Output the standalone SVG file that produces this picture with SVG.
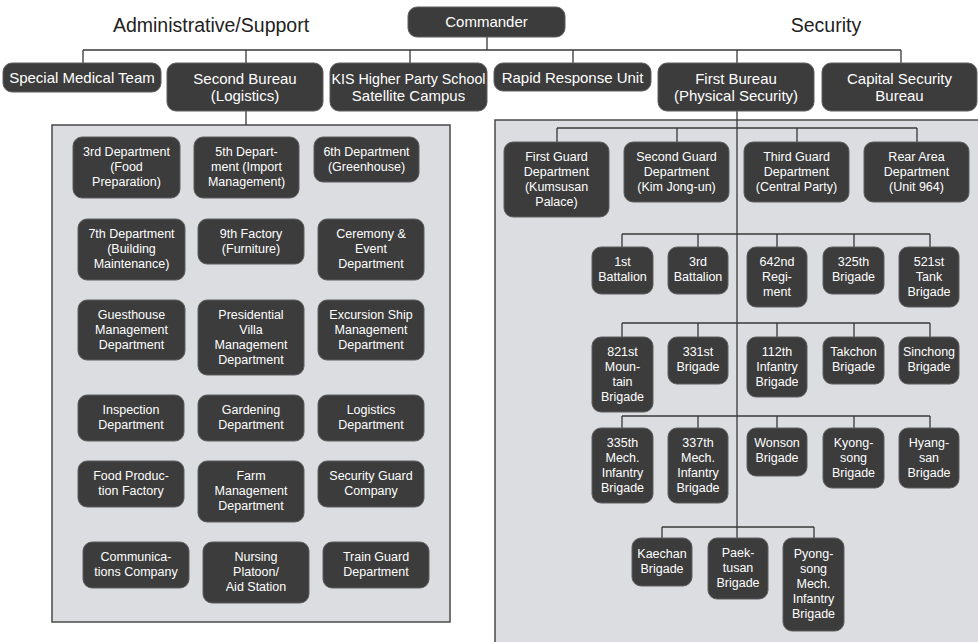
<svg xmlns="http://www.w3.org/2000/svg" width="978" height="642" viewBox="0 0 978 642">
<style>
.bg{fill:#ffffff}
.panel{fill:#dcdde0;stroke:#4a4a4a;stroke-width:1.5}
.box{fill:#3c3c3c;stroke:#5e5e5e;stroke-width:1}
.t{font-family:"Liberation Sans",Arial,sans-serif;font-size:12.5px;fill:#ffffff;text-anchor:middle}
.tt{font-family:"Liberation Sans",Arial,sans-serif;font-size:15px;fill:#ffffff;text-anchor:middle}
.title{font-family:"Liberation Sans",Arial,sans-serif;font-size:19.5px;fill:#222222;text-anchor:middle}
.ln{fill:none;stroke:#383838;stroke-width:1.3}
</style>
<rect class="bg" x="0" y="0" width="978" height="642"/>
<text class="title" x="211" y="32">Administrative/Support</text>
<text class="title" x="826" y="32">Security</text>
<rect class="panel" x="52" y="125" width="398" height="497"/>
<rect class="panel" x="495" y="120" width="490" height="530"/>
<g id="connectors">
<path class="ln" d="M487 37V50M83 50H901M83 50V63M246 50V63M410 50V63M573 50V63M737 50V63M901 50V63"/>
<path class="ln" d="M246 111V125"/>
<path class="ln" d="M737 111V527"/>
<path class="ln" d="M557 128H917M557 128V142M677 128V142M797 128V142M917 128V142"/>
<path class="ln" d="M622 234H930M622 234V247M698 234V247M777 234V247M854 234V247M930 234V247"/>
<path class="ln" d="M622 323H930M622 323V337M698 323V337M777 323V337M854 323V337M930 323V337"/>
<path class="ln" d="M622 416H930M622 416V428M698 416V428M777 416V428M854 416V428M930 416V428"/>
<path class="ln" d="M662 527H814M662 527V538M737 527V538M814 527V538"/>
</g>
<g id="commander"><rect class="box" x="408" y="7" width="157" height="30" rx="9"/><text class="tt" x="486.5" y="27">Commander</text></g>
<g id="special-medical"><rect class="box" x="3" y="63" width="158" height="29" rx="9"/><text class="tt" x="82" y="83">Special Medical Team</text></g>
<g id="second-bureau"><rect class="box" x="167" y="63" width="156" height="48" rx="9"/><text class="tt" x="245" y="83.5">Second Bureau</text><text class="tt" x="245" y="100.5">(Logistics)</text></g>
<g id="kis"><rect class="box" x="330" y="63" width="157" height="48" rx="9"/><text class="tt" x="408.5" y="83.5" textLength="154" lengthAdjust="spacingAndGlyphs">KIS Higher Party School</text><text class="tt" x="408.5" y="100.5">Satellite Campus</text></g>
<g id="rapid-response"><rect class="box" x="494" y="63" width="157" height="28" rx="9"/><text class="tt" x="572.5" y="82.5">Rapid Response Unit</text></g>
<g id="first-bureau"><rect class="box" x="658" y="63" width="156" height="48" rx="9"/><text class="tt" x="736" y="83.5">First Bureau</text><text class="tt" x="736" y="100.5">(Physical Security)</text></g>
<g id="capital-security"><rect class="box" x="822" y="63" width="155" height="48" rx="9"/><text class="tt" x="899.5" y="83.5">Capital Security</text><text class="tt" x="899.5" y="100.5">Bureau</text></g>

<g id="dept3"><rect class="box" x="73" y="137" width="107" height="61" rx="9"/><text class="t" x="126.5" y="156">3rd Department</text><text class="t" x="126.5" y="171">(Food</text><text class="t" x="126.5" y="186">Preparation)</text></g>
<g id="dept5"><rect class="box" x="194" y="137" width="105" height="61" rx="9"/><text class="t" x="246.5" y="156">5th Depart-</text><text class="t" x="246.5" y="171">ment (Import</text><text class="t" x="246.5" y="186">Management)</text></g>
<g id="dept6"><rect class="box" x="314" y="137" width="105" height="45" rx="9"/><text class="t" x="366.5" y="155.5">6th Department</text><text class="t" x="366.5" y="170.5">(Greenhouse)</text></g>
<g id="dept7"><rect class="box" x="78" y="219" width="107" height="61" rx="9"/><text class="t" x="131.5" y="238">7th Department</text><text class="t" x="131.5" y="253">(Building</text><text class="t" x="131.5" y="268">Maintenance)</text></g>
<g id="factory9"><rect class="box" x="198" y="219" width="106" height="45" rx="9"/><text class="t" x="251" y="237.5">9th Factory</text><text class="t" x="251" y="252.5">(Furniture)</text></g>
<g id="ceremony"><rect class="box" x="318" y="219" width="106" height="61" rx="9"/><text class="t" x="371" y="238">Ceremony &amp;</text><text class="t" x="371" y="253">Event</text><text class="t" x="371" y="268">Department</text></g>
<g id="guesthouse"><rect class="box" x="78" y="300" width="107" height="60" rx="9"/><text class="t" x="131.5" y="318.5">Guesthouse</text><text class="t" x="131.5" y="333.5">Management</text><text class="t" x="131.5" y="348.5">Department</text></g>
<g id="villa"><rect class="box" x="198" y="300" width="106" height="75" rx="9"/><text class="t" x="251" y="318.5">Presidential</text><text class="t" x="251" y="333.5">Villa</text><text class="t" x="251" y="348.5">Management</text><text class="t" x="251" y="363.5">Department</text></g>
<g id="excursion"><rect class="box" x="318" y="300" width="106" height="60" rx="9"/><text class="t" x="371" y="318.5">Excursion Ship</text><text class="t" x="371" y="333.5">Management</text><text class="t" x="371" y="348.5">Department</text></g>
<g id="inspection"><rect class="box" x="78" y="395" width="106" height="46" rx="9"/><text class="t" x="131" y="413.5">Inspection</text><text class="t" x="131" y="428.5">Department</text></g>
<g id="gardening"><rect class="box" x="198" y="395" width="106" height="46" rx="9"/><text class="t" x="251" y="413.5">Gardening</text><text class="t" x="251" y="428.5">Department</text></g>
<g id="logistics"><rect class="box" x="318" y="395" width="106" height="46" rx="9"/><text class="t" x="371" y="413.5">Logistics</text><text class="t" x="371" y="428.5">Department</text></g>
<g id="food"><rect class="box" x="78" y="461" width="106" height="46" rx="9"/><text class="t" x="131" y="479.5">Food Produc-</text><text class="t" x="131" y="494.5">tion Factory</text></g>
<g id="farm"><rect class="box" x="198" y="461" width="106" height="61" rx="9"/><text class="t" x="251" y="480">Farm</text><text class="t" x="251" y="495">Management</text><text class="t" x="251" y="510">Department</text></g>
<g id="security-guard"><rect class="box" x="318" y="461" width="106" height="46" rx="9"/><text class="t" x="371" y="479.5">Security Guard</text><text class="t" x="371" y="494.5">Company</text></g>
<g id="communications"><rect class="box" x="83" y="542" width="106" height="46" rx="9"/><text class="t" x="136" y="560.5">Communica-</text><text class="t" x="136" y="575.5">tions Company</text></g>
<g id="nursing"><rect class="box" x="203" y="542" width="106" height="61" rx="9"/><text class="t" x="256" y="561">Nursing</text><text class="t" x="256" y="576">Platoon/</text><text class="t" x="256" y="591">Aid Station</text></g>
<g id="train-guard"><rect class="box" x="323" y="542" width="106" height="46" rx="9"/><text class="t" x="376" y="560.5">Train Guard</text><text class="t" x="376" y="575.5">Department</text></g>

<g id="first-guard"><rect class="box" x="504" y="142" width="105" height="75" rx="9"/><text class="t" x="556.5" y="160.5">First Guard</text><text class="t" x="556.5" y="175.5">Department</text><text class="t" x="556.5" y="190.5">(Kumsusan</text><text class="t" x="556.5" y="205.5">Palace)</text></g>
<g id="second-guard"><rect class="box" x="624" y="142" width="105" height="60" rx="9"/><text class="t" x="676.5" y="160.5">Second Guard</text><text class="t" x="676.5" y="175.5">Department</text><text class="t" x="676.5" y="190.5">(Kim Jong-un)</text></g>
<g id="third-guard"><rect class="box" x="744" y="142" width="105" height="60" rx="9"/><text class="t" x="796.5" y="160.5">Third Guard</text><text class="t" x="796.5" y="175.5">Department</text><text class="t" x="796.5" y="190.5">(Central Party)</text></g>
<g id="rear-area"><rect class="box" x="864" y="142" width="105" height="60" rx="9"/><text class="t" x="916.5" y="160.5">Rear Area</text><text class="t" x="916.5" y="175.5">Department</text><text class="t" x="916.5" y="190.5">(Unit 964)</text></g>

<g id="bn1"><rect class="box" x="592" y="247" width="61" height="47" rx="9"/><text class="t" x="622.5" y="265.5">1st</text><text class="t" x="622.5" y="280.5">Battalion</text></g>
<g id="bn3"><rect class="box" x="668" y="247" width="60" height="47" rx="9"/><text class="t" x="698" y="265.5">3rd</text><text class="t" x="698" y="280.5">Battalion</text></g>
<g id="reg642"><rect class="box" x="747" y="247" width="60" height="60" rx="9"/><text class="t" x="777" y="265.5">642nd</text><text class="t" x="777" y="280.5">Regi-</text><text class="t" x="777" y="295.5">ment</text></g>
<g id="bde325"><rect class="box" x="823" y="247" width="61" height="47" rx="9"/><text class="t" x="853.5" y="265.5">325th</text><text class="t" x="853.5" y="280.5">Brigade</text></g>
<g id="bde521"><rect class="box" x="899" y="247" width="60" height="60" rx="9"/><text class="t" x="929" y="265.5">521st</text><text class="t" x="929" y="280.5">Tank</text><text class="t" x="929" y="295.5">Brigade</text></g>

<g id="bde821"><rect class="box" x="592" y="337" width="61" height="75" rx="9"/><text class="t" x="622.5" y="355.5">821st</text><text class="t" x="622.5" y="370.5">Moun-</text><text class="t" x="622.5" y="385.5">tain</text><text class="t" x="622.5" y="400.5">Brigade</text></g>
<g id="bde331"><rect class="box" x="668" y="337" width="60" height="47" rx="9"/><text class="t" x="698" y="355.5">331st</text><text class="t" x="698" y="370.5">Brigade</text></g>
<g id="bde112"><rect class="box" x="747" y="337" width="60" height="60" rx="9"/><text class="t" x="777" y="355.5">112th</text><text class="t" x="777" y="370.5">Infantry</text><text class="t" x="777" y="385.5">Brigade</text></g>
<g id="takchon"><rect class="box" x="823" y="337" width="61" height="47" rx="9"/><text class="t" x="853.5" y="355.5">Takchon</text><text class="t" x="853.5" y="370.5">Brigade</text></g>
<g id="sinchong"><rect class="box" x="899" y="337" width="60" height="47" rx="9"/><text class="t" x="929" y="355.5">Sinchong</text><text class="t" x="929" y="370.5">Brigade</text></g>

<g id="bde335"><rect class="box" x="592" y="428" width="61" height="75" rx="9"/><text class="t" x="622.5" y="446.5">335th</text><text class="t" x="622.5" y="461.5">Mech.</text><text class="t" x="622.5" y="476.5">Infantry</text><text class="t" x="622.5" y="491.5">Brigade</text></g>
<g id="bde337"><rect class="box" x="668" y="428" width="60" height="75" rx="9"/><text class="t" x="698" y="446.5">337th</text><text class="t" x="698" y="461.5">Mech.</text><text class="t" x="698" y="476.5">Infantry</text><text class="t" x="698" y="491.5">Brigade</text></g>
<g id="wonson"><rect class="box" x="747" y="428" width="60" height="48" rx="9"/><text class="t" x="777" y="446.5">Wonson</text><text class="t" x="777" y="461.5">Brigade</text></g>
<g id="kyongsong"><rect class="box" x="823" y="428" width="61" height="60" rx="9"/><text class="t" x="853.5" y="446.5">Kyong-</text><text class="t" x="853.5" y="461.5">song</text><text class="t" x="853.5" y="476.5">Brigade</text></g>
<g id="hyangsan"><rect class="box" x="899" y="428" width="60" height="60" rx="9"/><text class="t" x="929" y="446.5">Hyang-</text><text class="t" x="929" y="461.5">san</text><text class="t" x="929" y="476.5">Brigade</text></g>

<g id="kaechan"><rect class="box" x="632" y="538" width="60" height="48" rx="9"/><text class="t" x="662" y="557.5">Kaechan</text><text class="t" x="662" y="572.5">Brigade</text></g>
<g id="paektusan"><rect class="box" x="708" y="538" width="60" height="61" rx="9"/><text class="t" x="738" y="557">Paek-</text><text class="t" x="738" y="572">tusan</text><text class="t" x="738" y="587">Brigade</text></g>
<g id="pyongsong"><rect class="box" x="783" y="538" width="61" height="93" rx="9"/><text class="t" x="813.5" y="558">Pyong-</text><text class="t" x="813.5" y="573">song</text><text class="t" x="813.5" y="588">Mech.</text><text class="t" x="813.5" y="603">Infantry</text><text class="t" x="813.5" y="618">Brigade</text></g>
</svg>
